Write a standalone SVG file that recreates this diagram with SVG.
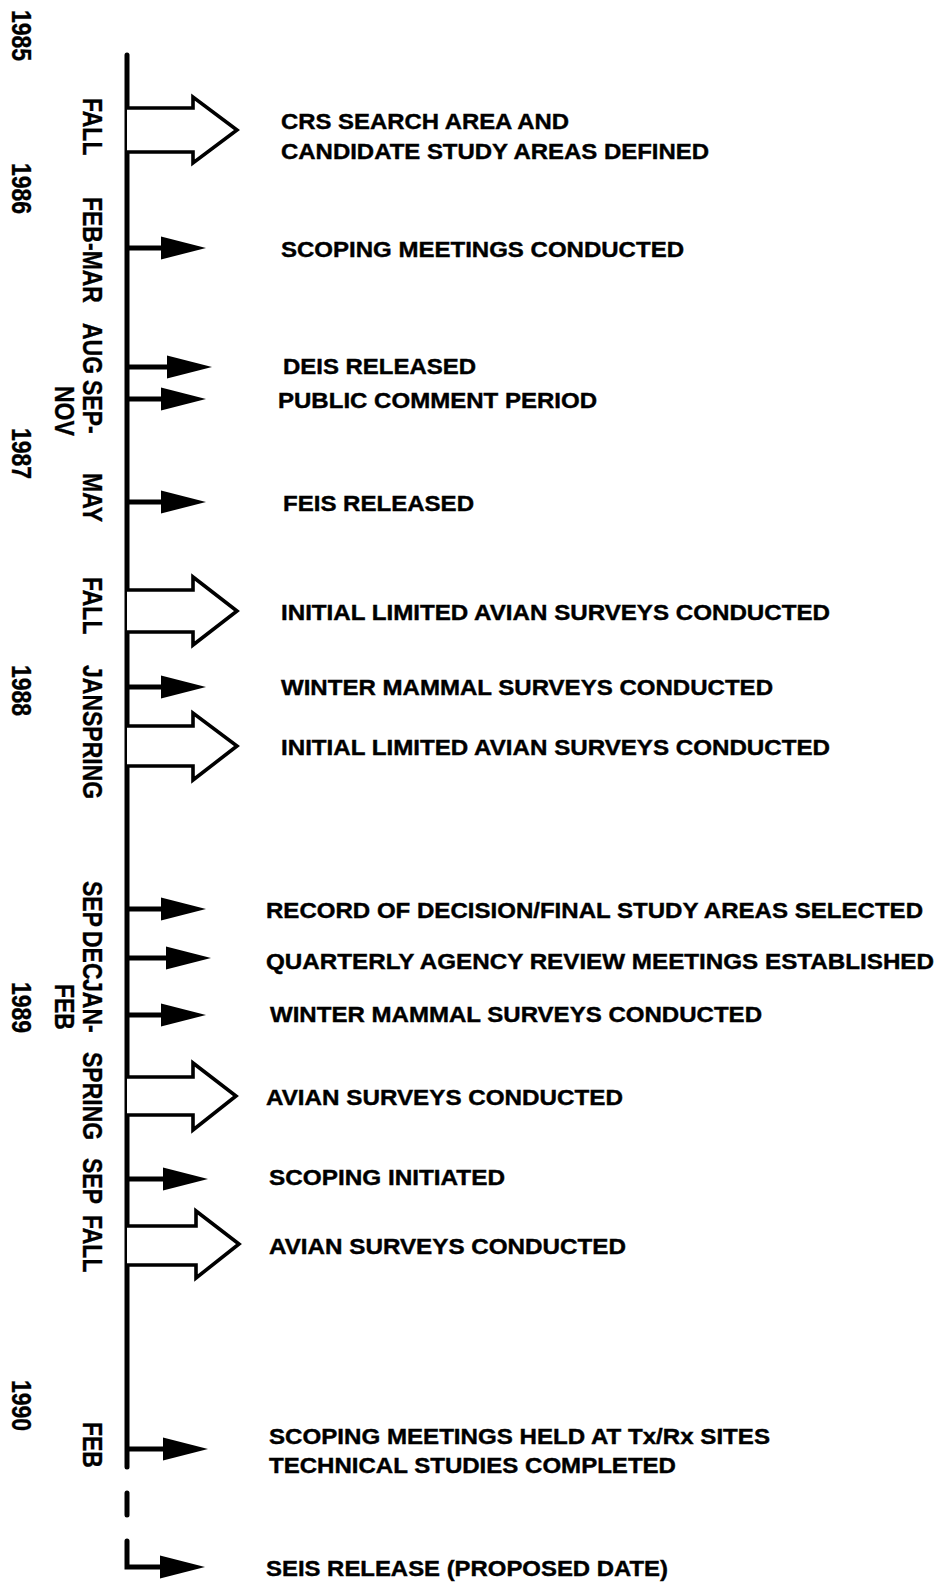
<svg xmlns="http://www.w3.org/2000/svg" xmlns:xlink="http://www.w3.org/1999/xlink" width="939" height="1584" viewBox="0 0 939 1584">
<style>
.axis{stroke:#000;stroke-width:5;fill:none;stroke-linecap:round}
.shaft{stroke:#000;stroke-width:5;fill:none}
.hollow{stroke:#000;stroke-width:3.6;fill:#fff;stroke-linejoin:miter}
.lbl{font-family:"Liberation Sans",Arial,Helvetica,sans-serif;font-weight:bold;font-size:21.5px;fill:#000;stroke:#000;stroke-width:0.4}
.rot{font-family:"Liberation Sans",Arial,Helvetica,sans-serif;font-weight:bold;font-size:23px;fill:#000;stroke:#000;stroke-width:0.3}
</style>
<defs>
<path id="head" d="M0,-11.5 L45,0 L0,11.5 Z" fill="#000"/>
</defs>
<rect width="939" height="1584" fill="#fff"/>

<g id="timeline-axis">
<line class="axis" x1="127" y1="55" x2="127" y2="1467"/>
<line class="axis" x1="127" y1="1493" x2="127" y2="1515"/>
</g>

<g id="connectors">
<path class="hollow" d="M127,108 H193 V97 L237,130 L193,163 V152 H127"/>
<path class="hollow" d="M127,590 H193 V577 L237,611 L193,645 V632 H127"/>
<path class="hollow" d="M127,726 H193 V713 L237,746 L193,780 V766 H127"/>
<path class="hollow" d="M127,1077 H193 V1063 L236,1096 L193,1130 V1115 H127"/>
<path class="hollow" d="M127,1226 H196 V1211 L239,1244 L196,1278 V1265 H127"/>
<line class="shaft" x1="127" y1="248" x2="163" y2="248"/><use xlink:href="#head" x="161" y="248"/>
<line class="shaft" x1="127" y1="367" x2="169" y2="367"/><use xlink:href="#head" x="167" y="367"/>
<line class="shaft" x1="127" y1="399" x2="163" y2="399"/><use xlink:href="#head" x="161" y="399"/>
<line class="shaft" x1="127" y1="502" x2="163" y2="502"/><use xlink:href="#head" x="161" y="502"/>
<line class="shaft" x1="127" y1="687" x2="163" y2="687"/><use xlink:href="#head" x="161" y="687"/>
<line class="shaft" x1="127" y1="909" x2="163" y2="909"/><use xlink:href="#head" x="161" y="909"/>
<line class="shaft" x1="127" y1="958" x2="168" y2="958"/><use xlink:href="#head" x="166" y="958"/>
<line class="shaft" x1="127" y1="1015" x2="163" y2="1015"/><use xlink:href="#head" x="161" y="1015"/>
<line class="shaft" x1="127" y1="1179" x2="165" y2="1179"/><use xlink:href="#head" x="163" y="1179"/>
<line class="shaft" x1="127" y1="1449" x2="165" y2="1449"/><use xlink:href="#head" x="163" y="1449"/>
<path class="axis" d="M127,1541 V1567 H162" stroke-linecap="butt"/><use xlink:href="#head" x="160" y="1567"/>
</g>

<g id="year-labels">
<text class="rot" transform="translate(12,10) scale(1.17,1) rotate(90)">1985</text>
<text class="rot" transform="translate(12,163) scale(1.17,1) rotate(90)">1986</text>
<text class="rot" transform="translate(12,428) scale(1.17,1) rotate(90)">1987</text>
<text class="rot" transform="translate(12,665) scale(1.17,1) rotate(90)">1988</text>
<text class="rot" transform="translate(12,982) scale(1.17,1) rotate(90)">1989</text>
<text class="rot" transform="translate(12,1380) scale(1.17,1) rotate(90)">1990</text>
</g>

<g id="month-labels">
<text class="rot" transform="translate(83,98) scale(1.17,1) rotate(90)">FALL</text>
<text class="rot" transform="translate(83,197) scale(1.17,1) rotate(90)">FEB-MAR</text>
<text class="rot" transform="translate(83,323) scale(1.17,1) rotate(90)">AUG</text>
<text class="rot" transform="translate(83,380) scale(1.17,1) rotate(90)">SEP-</text>
<text class="rot" transform="translate(55,386) scale(1.17,1) rotate(90)">NOV</text>
<text class="rot" transform="translate(83,473) scale(1.17,1) rotate(90)">MAY</text>
<text class="rot" transform="translate(83,577) scale(1.17,1) rotate(90)">FALL</text>
<text class="rot" transform="translate(83,665) scale(1.17,1) rotate(90)">JAN</text>
<text class="rot" transform="translate(83,711) scale(1.17,1) rotate(90)">SPRING</text>
<text class="rot" transform="translate(83,881) scale(1.17,1) rotate(90)">SEP</text>
<text class="rot" transform="translate(83,931) scale(1.17,1) rotate(90)">DEC</text>
<text class="rot" transform="translate(83,979) scale(1.17,1) rotate(90)">JAN-</text>
<text class="rot" transform="translate(55,984) scale(1.17,1) rotate(90)">FEB</text>
<text class="rot" transform="translate(83,1052) scale(1.17,1) rotate(90)">SPRING</text>
<text class="rot" transform="translate(83,1158) scale(1.17,1) rotate(90)">SEP</text>
<text class="rot" transform="translate(83,1215) scale(1.17,1) rotate(90)">FALL</text>
<text class="rot" transform="translate(83,1422) scale(1.17,1) rotate(90)">FEB</text>
</g>

<g id="event-crs-search">
<text class="lbl" x="281" y="129" textLength="288" lengthAdjust="spacingAndGlyphs">CRS SEARCH AREA AND</text>
<text class="lbl" x="281" y="159" textLength="428" lengthAdjust="spacingAndGlyphs">CANDIDATE STUDY AREAS DEFINED</text>
</g>
<g id="event-scoping-meetings">
<text class="lbl" x="281" y="257" textLength="403" lengthAdjust="spacingAndGlyphs">SCOPING MEETINGS CONDUCTED</text>
</g>
<g id="event-deis">
<text class="lbl" x="283" y="374" textLength="193" lengthAdjust="spacingAndGlyphs">DEIS RELEASED</text>
</g>
<g id="event-public-comment">
<text class="lbl" x="278" y="408" textLength="319" lengthAdjust="spacingAndGlyphs">PUBLIC COMMENT PERIOD</text>
</g>
<g id="event-feis">
<text class="lbl" x="283" y="511" textLength="191" lengthAdjust="spacingAndGlyphs">FEIS RELEASED</text>
</g>
<g id="event-avian-1987">
<text class="lbl" x="281" y="620" textLength="549" lengthAdjust="spacingAndGlyphs">INITIAL LIMITED AVIAN SURVEYS CONDUCTED</text>
</g>
<g id="event-mammal-1988">
<text class="lbl" x="281" y="695" textLength="492" lengthAdjust="spacingAndGlyphs">WINTER MAMMAL SURVEYS CONDUCTED</text>
</g>
<g id="event-avian-1988">
<text class="lbl" x="281" y="755" textLength="549" lengthAdjust="spacingAndGlyphs">INITIAL LIMITED AVIAN SURVEYS CONDUCTED</text>
</g>
<g id="event-record-of-decision">
<text class="lbl" x="266" y="918" textLength="657" lengthAdjust="spacingAndGlyphs">RECORD OF DECISION/FINAL STUDY AREAS SELECTED</text>
</g>
<g id="event-quarterly-review">
<text class="lbl" x="266" y="969" textLength="668" lengthAdjust="spacingAndGlyphs">QUARTERLY AGENCY REVIEW MEETINGS ESTABLISHED</text>
</g>
<g id="event-mammal-1989">
<text class="lbl" x="270" y="1022" textLength="492" lengthAdjust="spacingAndGlyphs">WINTER MAMMAL SURVEYS CONDUCTED</text>
</g>
<g id="event-avian-spring-1989">
<text class="lbl" x="266" y="1105" textLength="357" lengthAdjust="spacingAndGlyphs">AVIAN SURVEYS CONDUCTED</text>
</g>
<g id="event-scoping-initiated">
<text class="lbl" x="269" y="1185" textLength="236" lengthAdjust="spacingAndGlyphs">SCOPING INITIATED</text>
</g>
<g id="event-avian-fall-1989">
<text class="lbl" x="269" y="1254" textLength="357" lengthAdjust="spacingAndGlyphs">AVIAN SURVEYS CONDUCTED</text>
</g>
<g id="event-scoping-txrx">
<text class="lbl" x="269" y="1444" textLength="501" lengthAdjust="spacingAndGlyphs">SCOPING MEETINGS HELD AT Tx/Rx SITES</text>
<text class="lbl" x="269" y="1473" textLength="407" lengthAdjust="spacingAndGlyphs">TECHNICAL STUDIES COMPLETED</text>
</g>
<g id="event-seis">
<text class="lbl" x="266" y="1576" textLength="402" lengthAdjust="spacingAndGlyphs">SEIS RELEASE (PROPOSED DATE)</text>
</g>
</svg>
